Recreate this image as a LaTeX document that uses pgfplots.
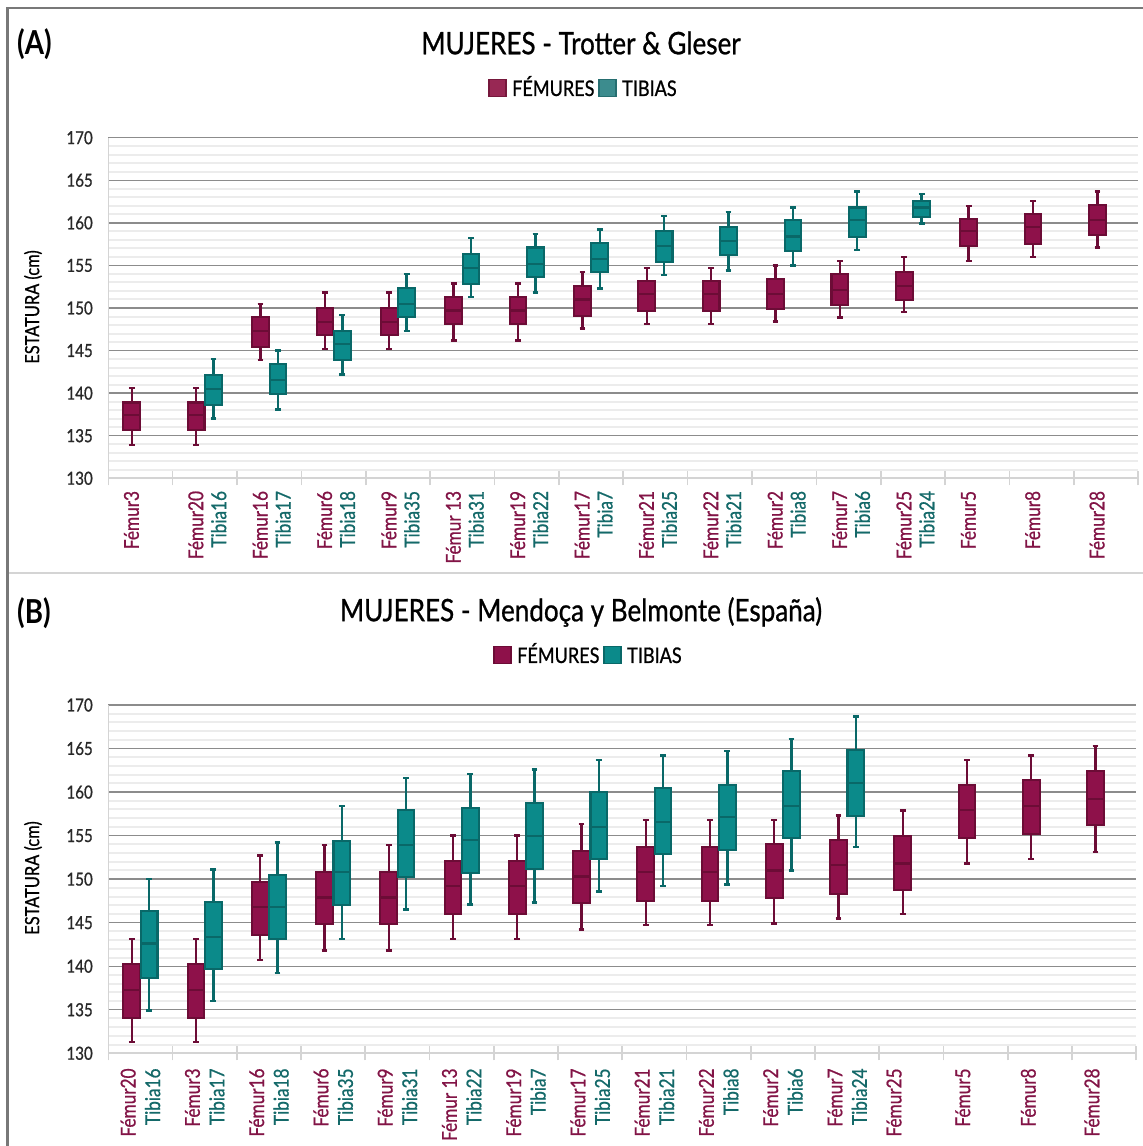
\documentclass[border=0pt]{standalone}
\usepackage{fontspec}
\setmainfont{Lato}[FakeStretch=0.84, UprightFeatures={FakeBold=0.8}]
\usepackage{pgfplots}
\usepackage{pgfplotstable}
\usepgfplotslibrary{statistics}
\pgfplotsset{compat=1.18}

\definecolor{femfill}{RGB}{142,17,74}
\definecolor{femedge}{RGB}{108,12,54}
\definecolor{tibfill}{RGB}{11,138,138}
\definecolor{tibedge}{RGB}{9,104,104}
\definecolor{femtext}{RGB}{130,20,70}
\definecolor{tibtext}{RGB}{20,105,105}
\definecolor{femlegA}{RGB}{152,40,84}
\definecolor{femlegAe}{RGB}{118,24,60}
\definecolor{tiblegA}{RGB}{60,140,142}
\definecolor{tiblegAe}{RGB}{38,110,112}
\definecolor{gridgray}{RGB}{140,140,140}
\definecolor{minorgray}{RGB}{236,236,236}
\definecolor{axgray}{RGB}{212,212,212}
\definecolor{framegray}{RGB}{120,120,120}
\definecolor{ticktext}{RGB}{40,40,40}

% Panel A femurs: categories 0..15
\pgfplotstableread{
lw lq med uq uw
133.9 135.7 137.4 138.9 140.6
133.9 135.7 137.4 138.9 140.6
143.9 145.4 147.3 148.9 150.5
145.2 146.8 148.4 150.0 151.8
145.2 146.8 148.4 150.0 151.8
146.2 148.1 149.7 151.3 152.9
146.2 148.1 149.7 151.3 152.9
147.6 149.1 151.0 152.6 154.2
148.1 149.6 151.6 153.2 154.7
148.1 149.6 151.6 153.2 154.7
148.4 149.9 151.6 153.4 155.0
148.9 150.4 152.1 154.0 155.5
149.5 150.9 152.6 154.2 156.0
155.5 157.3 159.0 160.5 162.0
156.0 157.5 159.5 161.0 162.6
157.1 158.6 160.3 162.1 163.7
}\femA
% Panel A tibias: categories 1..12
\pgfplotstableread{
lw lq med uq uw
137.0 138.6 140.5 142.1 144.0
138.1 139.9 141.5 143.4 145.0
142.2 143.9 145.8 147.3 149.2
147.3 148.9 150.5 152.4 154.0
151.3 152.8 154.7 156.3 158.2
151.8 153.6 155.2 157.1 158.7
152.3 154.2 155.8 157.6 159.2
153.9 155.4 157.3 159.0 160.8
154.4 156.2 157.9 159.5 161.3
155.0 156.7 158.4 160.3 161.8
156.8 158.3 160.3 161.8 163.7
159.9 160.7 161.8 162.6 163.4
}\tibA
% Panel B femurs: categories 0..15
\pgfplotstableread{
lw lq med uq uw
131.3 134.1 137.3 140.3 143.1
131.3 134.1 137.3 140.3 143.1
140.7 143.6 146.8 149.7 152.7
141.8 144.9 147.9 150.8 153.9
141.8 144.9 147.9 150.8 153.9
143.1 146.0 149.2 152.1 155.0
143.1 146.0 149.2 152.1 155.0
144.2 147.3 150.3 153.2 156.3
144.7 147.5 150.8 153.7 156.8
144.7 147.5 150.8 153.7 156.8
144.9 147.8 151.0 154.0 156.8
145.5 148.3 151.6 154.5 157.3
146.0 148.8 151.8 155.0 157.9
151.8 154.7 157.9 160.8 163.7
152.3 155.2 158.4 161.4 164.2
153.1 156.2 159.2 162.4 165.3
}\femB
% Panel B tibias: categories 0..11
\pgfplotstableread{
lw lq med uq uw
134.9 138.6 142.6 146.3 150.0
136.0 139.7 143.4 147.4 151.1
139.2 143.1 146.8 150.5 154.2
143.1 147.0 150.8 154.4 158.4
146.5 150.2 153.9 157.9 161.6
147.1 150.7 154.5 158.2 162.1
147.3 151.2 155.0 158.7 162.6
148.6 152.3 156.0 160.0 163.7
149.2 152.9 156.6 160.5 164.2
149.4 153.3 157.1 160.8 164.7
151.0 154.7 158.4 162.4 166.1
153.7 157.3 161.0 164.8 168.7
}\tibB

\pgfplotsset{
  panel/.style={
    scale only axis, xmin=-0.5, xmax=15.5, ymin=130, ymax=170,
    axis lines*=left,
    axis line style={draw=axgray, line width=1.6pt},
    xtick={-0.5,0.5,...,15.5}, xticklabels={},
    ytick={130,135,...,170}, minor y tick num=4,
    ymajorgrids, yminorgrids,
    major grid style={draw=gridgray, line width=1.4pt},
    minor grid style={draw=minorgray, line width=2pt},
    y tick style={draw=none}, minor y tick style={draw=none},
    x tick style={draw=axgray, line width=1.6pt},
    tick align=center, major tick length=14pt,
    yticklabel style={font=\fontsize{18}{19}\selectfont, text=ticktext,
      /pgf/number format/assume math mode=true, xshift=-5pt},
    clip=false,
    boxplot/draw direction=y,
  },
  femst/.style={draw=femedge, fill=femfill, line width=2.1pt, solid,
    boxplot/box extend=0.26, boxplot/whisker extend=0.09,
    boxplot/every whisker/.style={draw=femedge, line width=2.4pt},
    boxplot/every median/.style={draw=femedge, line width=2.2pt}},
  tibst/.style={draw=tibedge, fill=tibfill, line width=2.1pt, solid,
    boxplot/box extend=0.26, boxplot/whisker extend=0.09,
    boxplot/every whisker/.style={draw=tibedge, line width=2.4pt},
    boxplot/every median/.style={draw=tibedge, line width=2.2pt}},
}
\tikzset{
  labF/.style={rotate=90, anchor=east, inner sep=0pt, text=femtext,
    font=\fontsize{20.5}{21}\selectfont},
  labT/.style={rotate=90, anchor=east, inner sep=0pt, text=tibtext,
    font=\fontsize{20.5}{21}\selectfont},
}

\newcommand{\boxrow}[4]{% style, table, row, position
  \pgfplotstablegetelem{#3}{lw}\of{#2}\let\vlw\pgfplotsretval
  \pgfplotstablegetelem{#3}{lq}\of{#2}\let\vlq\pgfplotsretval
  \pgfplotstablegetelem{#3}{med}\of{#2}\let\vmed\pgfplotsretval
  \pgfplotstablegetelem{#3}{uq}\of{#2}\let\vuq\pgfplotsretval
  \pgfplotstablegetelem{#3}{uw}\of{#2}\let\vuw\pgfplotsretval
  \edef\tempplot{\noexpand\addplot[#1, boxplot prepared={draw position=#4,
      lower whisker=\vlw, lower quartile=\vlq, median=\vmed,
      upper quartile=\vuq, upper whisker=\vuw}] coordinates {};}%
  \tempplot}

\begin{document}
\begin{tikzpicture}[x=1pt,y=1pt]
% frames
\draw[draw=axgray, line width=2pt] (8,573) -- (1143,573);
\draw[draw=framegray, line width=2.5pt] (7.5,0) -- (7.5,1139);
\draw[draw=framegray, line width=2pt] (6.5,1138) -- (1143,1138);

% ---------------- Panel A ----------------
\node[anchor=west, inner sep=0pt, font=\bfseries\fontsize{33}{36}\selectfont] at (17,1102) {(A)};
\node[inner sep=0pt, font=\fontsize{31}{36}\selectfont] at (581,1103) {MUJERES - Trotter \& Gleser};
\filldraw[fill=femlegA, draw=femlegAe, line width=1.5pt] (489,1049.5) rectangle (506,1066.5);
\node[anchor=base west, inner sep=0pt, font=\fontsize{21.5}{24}\selectfont] at (512,1050) {FÉMURES};
\filldraw[fill=tiblegA, draw=tiblegAe, line width=1.5pt] (599,1049.5) rectangle (616,1066.5);
\node[anchor=base west, inner sep=0pt, font=\fontsize{21.5}{24}\selectfont] at (622,1050) {TIBIAS};
\node[rotate=90, inner sep=0pt, font=\fontsize{19.5}{20}\selectfont] at (33,839) {ESTATURA (cm)};

\begin{axis}[panel, at={(108.3pt,667.7pt)}, anchor=south west, width=1030pt, height=340.6pt]
\pgfplotsinvokeforeach{0,...,15}{\boxrow{femst}{\femA}{#1}{#1-0.135}}
\pgfplotsinvokeforeach{0,...,11}{\boxrow{tibst}{\tibA}{#1}{#1+1.135}}
\node[labF] at (axis cs:-0.14,128.53) {Fémur3};
\node[labF] at (axis cs:0.86,128.53) {Fémur20};
\node[labT] at (axis cs:1.215,128.53) {Tibia16};
\node[labF] at (axis cs:1.86,128.53) {Fémur16};
\node[labT] at (axis cs:2.215,128.53) {Tibia17};
\node[labF] at (axis cs:2.86,128.53) {Fémur6};
\node[labT] at (axis cs:3.215,128.53) {Tibia18};
\node[labF] at (axis cs:3.86,128.53) {Fémur9};
\node[labT] at (axis cs:4.215,128.53) {Tibia35};
\node[labF] at (axis cs:4.86,128.53) {Fémur 13};
\node[labT] at (axis cs:5.215,128.53) {Tibia31};
\node[labF] at (axis cs:5.86,128.53) {Fémur19};
\node[labT] at (axis cs:6.215,128.53) {Tibia22};
\node[labF] at (axis cs:6.86,128.53) {Fémur17};
\node[labT] at (axis cs:7.215,128.53) {Tibia7};
\node[labF] at (axis cs:7.86,128.53) {Fémur21};
\node[labT] at (axis cs:8.215,128.53) {Tibia25};
\node[labF] at (axis cs:8.86,128.53) {Fémur22};
\node[labT] at (axis cs:9.215,128.53) {Tibia21};
\node[labF] at (axis cs:9.86,128.53) {Fémur2};
\node[labT] at (axis cs:10.215,128.53) {Tibia8};
\node[labF] at (axis cs:10.86,128.53) {Fémur7};
\node[labT] at (axis cs:11.215,128.53) {Tibia6};
\node[labF] at (axis cs:11.86,128.53) {Fémur25};
\node[labT] at (axis cs:12.215,128.53) {Tibia24};
\node[labF] at (axis cs:12.86,128.53) {Fémur5};
\node[labF] at (axis cs:13.86,128.53) {Fémur8};
\node[labF] at (axis cs:14.86,128.53) {Fémur28};
\end{axis}

% ---------------- Panel B ----------------
\node[anchor=west, inner sep=0pt, font=\bfseries\fontsize{33}{36}\selectfont] at (17,533) {(B)};
\node[inner sep=0pt, font=\fontsize{31}{36}\selectfont] at (581,534) {MUJERES - Mendoça y Belmonte (España)};
\filldraw[fill=femfill, draw=femedge, line width=1.5pt] (494,482.5) rectangle (511,499.5);
\node[anchor=base west, inner sep=0pt, font=\fontsize{21.5}{24}\selectfont] at (517,483) {FÉMURES};
\filldraw[fill=tibfill, draw=tibedge, line width=1.5pt] (604,482.5) rectangle (621,499.5);
\node[anchor=base west, inner sep=0pt, font=\fontsize{21.5}{24}\selectfont] at (627,483) {TIBIAS};
\node[rotate=90, inner sep=0pt, font=\fontsize{19.5}{20}\selectfont] at (33,268) {ESTATURA (cm)};

\begin{axis}[panel, at={(108.3pt,92.7pt)}, anchor=south west, width=1028pt, height=348.3pt]
\pgfplotsinvokeforeach{0,...,15}{\boxrow{femst}{\femB}{#1}{#1-0.135}}
\pgfplotsinvokeforeach{0,...,11}{\boxrow{tibst}{\tibB}{#1}{#1+0.135}}
\node[labF] at (axis cs:-0.19,128.28) {Fémur20};
\node[labT] at (axis cs:0.19,128.28) {Tibia16};
\node[labF] at (axis cs:0.81,128.28) {Fémur3};
\node[labT] at (axis cs:1.19,128.28) {Tibia17};
\node[labF] at (axis cs:1.81,128.28) {Fémur16};
\node[labT] at (axis cs:2.19,128.28) {Tibia18};
\node[labF] at (axis cs:2.81,128.28) {Fémur6};
\node[labT] at (axis cs:3.19,128.28) {Tibia35};
\node[labF] at (axis cs:3.81,128.28) {Fémur9};
\node[labT] at (axis cs:4.19,128.28) {Tibia31};
\node[labF] at (axis cs:4.81,128.28) {Fémur 13};
\node[labT] at (axis cs:5.19,128.28) {Tibia22};
\node[labF] at (axis cs:5.81,128.28) {Fémur19};
\node[labT] at (axis cs:6.19,128.28) {Tibia7};
\node[labF] at (axis cs:6.81,128.28) {Fémur17};
\node[labT] at (axis cs:7.19,128.28) {Tibia25};
\node[labF] at (axis cs:7.81,128.28) {Fémur21};
\node[labT] at (axis cs:8.19,128.28) {Tibia21};
\node[labF] at (axis cs:8.81,128.28) {Fémur22};
\node[labT] at (axis cs:9.19,128.28) {Tibia8};
\node[labF] at (axis cs:9.81,128.28) {Fémur2};
\node[labT] at (axis cs:10.19,128.28) {Tibia6};
\node[labF] at (axis cs:10.81,128.28) {Fémur7};
\node[labT] at (axis cs:11.19,128.28) {Tibia24};
\node[labF] at (axis cs:11.73,128.28) {Fémur25};
\node[labF] at (axis cs:12.8,128.28) {Fémur5};
\node[labF] at (axis cs:13.82,128.28) {Fémur8};
\node[labF] at (axis cs:14.81,128.28) {Fémur28};
\end{axis}
\pgfresetboundingbox
\useasboundingbox (0,0) rectangle (1143,1146);
\end{tikzpicture}
\end{document}
